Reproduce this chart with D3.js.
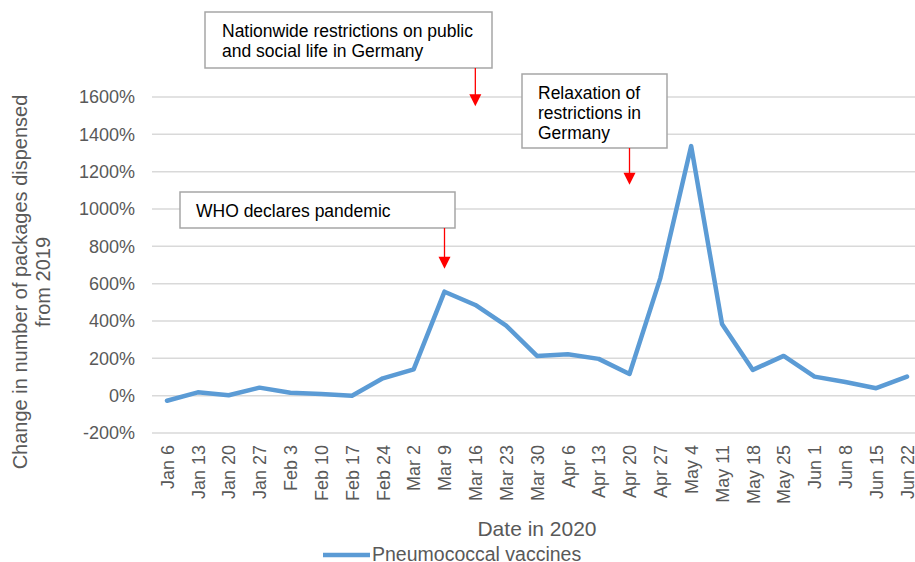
<!DOCTYPE html>
<html><head><meta charset="utf-8">
<script src="https://cdn.jsdelivr.net/npm/d3@7"></script>
<style>body{margin:0;background:#fff}svg{display:block;font-family:Arial,"Liberation Sans",sans-serif}</style>
</head><body><svg id="c" width="915" height="562"></svg>
<script>
const categories = ["Jan 6","Jan 13","Jan 20","Jan 27","Feb 3","Feb 10","Feb 17","Feb 24","Mar 2","Mar 9","Mar 16","Mar 23","Mar 30","Apr 6","Apr 13","Apr 20","Apr 27","May 4","May 11","May 18","May 25","Jun 1","Jun 8","Jun 15","Jun 22"];
const pneumococcal = [-27,18,2,43,16,9,0,93,141,557,486,375,213,222,197,116,630,1337,384,138,213,102,73,40,102];
const yTicks = [-200,0,200,400,600,800,1000,1200,1400,1600];
const annotations = [
  {lines:["Nationwide restrictions on public","and social life in Germany"], at:"Mar 16", value:1550},
  {lines:["Relaxation of","restrictions in","Germany"], at:"Apr 20", value:1130},
  {lines:["WHO declares pandemic"], at:"Mar 9", value:680}
];
const boxes = [
  {x:205,y:12,w:287,h:56,tx:222,arrowTop:68},
  {x:522,y:74,w:145,h:74,tx:538,arrowTop:148},
  {x:180,y:192,w:275,h:36,tx:196,arrowTop:228}
];

const svg = d3.select("#c");
const x = d3.scalePoint().domain(categories).range([167,907]);
const y = d3.scaleLinear().domain([-200,1600]).range([433,97]);

// gridlines
svg.append("g").selectAll("line").data(yTicks).join("line")
  .attr("x1",152).attr("x2",915).attr("y1",d=>y(d)).attr("y2",d=>y(d))
  .attr("stroke","#d9d9d9").attr("stroke-width",1.5);

// y axis
const ya = svg.append("g").attr("transform","translate(145,0)")
  .call(d3.axisLeft(y).tickValues(yTicks).tickSize(0).tickPadding(10).tickFormat(d=>d+"%"));
ya.select(".domain").remove();
ya.selectAll("text").attr("fill","#595959").style("font-size","18px").style("font-family","Arial,'Liberation Sans',sans-serif");

// x axis
const xa = svg.append("g").attr("transform","translate(0,433)")
  .call(d3.axisBottom(x).tickSize(0).tickPadding(0));
xa.select(".domain").remove();
xa.selectAll("text").attr("fill","#595959").style("font-size","18px").style("font-family","Arial,'Liberation Sans',sans-serif")
  .attr("transform","rotate(-90)").attr("text-anchor","end").attr("x",-12).attr("y",0).attr("dy","0.35em");

// line
svg.append("path").datum(pneumococcal)
  .attr("fill","none").attr("stroke","#5b9bd5").attr("stroke-width",4.5).attr("stroke-linejoin","round").attr("stroke-linecap","round")
  .attr("d", d3.line().x((d,i)=>x(categories[i])).y(d=>y(d)));

// annotations
annotations.forEach((a,i)=>{
  const b = boxes[i];
  const g = svg.append("g");
  g.append("rect").attr("x",b.x).attr("y",b.y).attr("width",b.w).attr("height",b.h)
    .attr("fill","#fff").attr("stroke","#a6a6a6").attr("stroke-width",1.5);
  a.lines.forEach((l,j)=>{
    g.append("text").attr("x",b.tx).attr("y",b.y+24.5+j*20).text(l)
      .attr("fill","#000").style("font-size","17.5px");
  });
  const ax = x(a.at), tip = y(a.value);
  g.append("line").attr("x1",ax).attr("x2",ax).attr("y1",b.arrowTop).attr("y2",tip-10)
    .attr("stroke","#ff0000").attr("stroke-width",1.3);
  g.append("path").attr("d",`M${ax-6},${tip-12}L${ax+6},${tip-12}L${ax},${tip}Z`).attr("fill","#ff0000");
});

// axis titles
const yt = svg.append("text").attr("transform","translate(27,282) rotate(-90)").attr("text-anchor","middle")
  .attr("fill","#595959").style("font-size","20px");
yt.append("tspan").attr("x",0).attr("dy",0).text("Change in number of packages dispensed");
yt.append("tspan").attr("x",0).attr("dy",23).text("from 2019");

svg.append("text").attr("x",537).attr("y",536).attr("text-anchor","middle")
  .attr("fill","#595959").style("font-size","21px").text("Date in 2020");

// legend
svg.append("line").attr("x1",323).attr("x2",370).attr("y1",555).attr("y2",555)
  .attr("stroke","#5b9bd5").attr("stroke-width",4.5);
svg.append("text").attr("x",372).attr("y",561).attr("fill","#595959").style("font-size","19.5px").text("Pneumococcal vaccines");
</script></body></html>
